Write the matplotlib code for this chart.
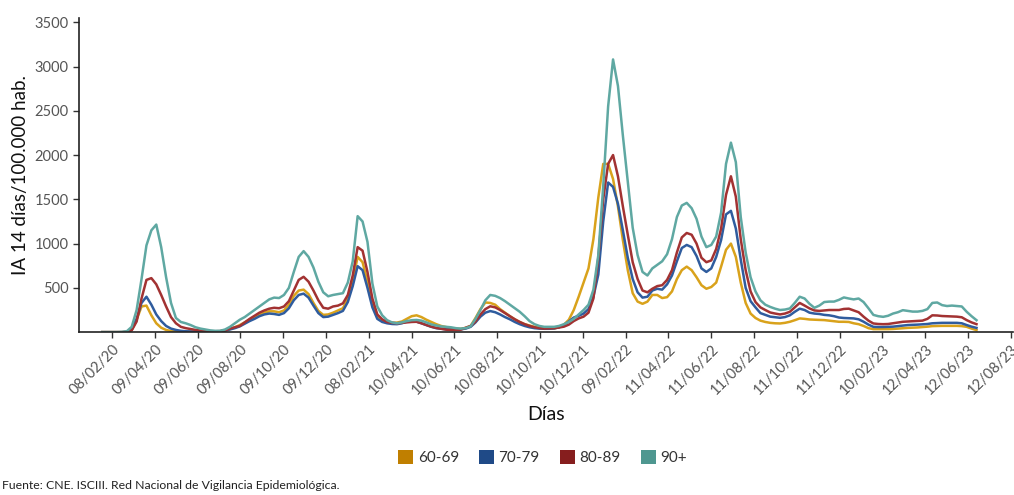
import numpy as np
import pandas as pd
import matplotlib
matplotlib.use('Agg')
import matplotlib.pyplot as plt
import matplotlib.dates as mdates
from matplotlib.patches import Patch

# weekly dates (IA 14 days per 100.000 inhabitants)
dates = pd.date_range('2020-01-25', periods=179, freq='7D')

ia_60_69 = [
    0, 0, 0, 0, 0, 2, 25, 140, 290, 300, 190, 100, 50, 25, 12, 8, 5, 4, 3, 3,
    3, 3, 3, 5, 10, 20, 35, 55, 80, 110, 140, 170, 200, 220, 235, 235, 225, 245, 310, 410,
    470, 480, 430, 330, 240, 195, 200, 220, 245, 270, 380, 580, 850, 790, 570, 320, 180, 130, 110, 105,
    108, 120, 150, 180, 190, 170, 140, 115, 90, 70, 58, 45, 38, 38, 48, 70, 160, 260, 335, 330,
    310, 260, 220, 180, 145, 115, 90, 75, 60, 50, 42, 40, 42, 55, 85, 140, 250, 400, 560, 720,
    1050, 1520, 1900, 1900, 1730, 1420, 1040, 700, 440, 345, 320, 345, 420, 420, 385, 395, 460, 600, 700, 740,
    700, 620, 530, 490, 510, 560, 740, 930, 1000, 850, 560, 330, 210, 160, 130, 115, 105, 100, 98, 105,
    117, 135, 155, 150, 143, 140, 138, 136, 130, 125, 117, 117, 115, 100, 90, 70, 45, 34, 34, 34,
    34, 36, 40, 45, 48, 50, 53, 57, 62, 68, 70, 71, 71, 71, 71, 68, 60, 40, 23,
]

ia_70_79 = [
    0, 0, 0, 0, 0, 3, 30, 150, 330, 400, 310, 200, 125, 70, 40, 25, 15, 10, 8, 6,
    5, 5, 5, 6, 10, 18, 30, 45, 65, 95, 125, 150, 180, 200, 210, 205, 195, 215, 270, 360,
    420, 435, 390, 300, 215, 170, 175, 195, 215, 240, 340, 520, 745, 700, 500, 280, 150, 115, 100, 92,
    90, 100, 118, 125, 118, 100, 80, 60, 45, 38, 32, 30, 30, 32, 40, 60, 110, 175, 220, 238,
    225, 200, 170, 145, 115, 90, 70, 55, 45, 40, 38, 38, 42, 55, 80, 120, 165, 185, 210, 260,
    400, 650, 1250, 1690, 1640, 1450, 1150, 840, 600, 450, 390, 400, 470, 490, 480, 540, 640, 800, 950, 985,
    960, 860, 720, 680, 720, 850, 1040, 1330, 1370, 1170, 820, 500, 350, 280, 215, 195, 175, 168, 162, 170,
    190, 230, 265, 250, 220, 210, 205, 195, 190, 180, 165, 160, 158, 155, 145, 118, 85, 60, 58, 58,
    60, 62, 68, 75, 80, 82, 85, 88, 92, 100, 103, 105, 105, 105, 105, 100, 80, 62, 48,
]

ia_80_89 = [
    0, 0, 0, 0, 0, 3, 20, 120, 380, 590, 610, 540, 420, 290, 170, 100, 60, 45, 35, 25,
    18, 12, 10, 10, 12, 20, 40, 55, 70, 110, 150, 185, 220, 245, 265, 275, 270, 290, 350, 470,
    590, 625, 570, 470, 360, 275, 265, 290, 300, 325, 420, 640, 960, 920, 680, 380, 200, 145, 115, 105,
    100, 105, 110, 115, 117, 100, 80, 62, 48, 38, 28, 25, 25, 28, 50, 70, 120, 200, 260, 292,
    280, 250, 215, 180, 145, 115, 90, 70, 55, 45, 40, 42, 45, 52, 62, 85, 125, 155, 175, 220,
    380, 840, 1500, 1900, 2000, 1760, 1420, 1100, 790, 600, 470, 450, 490, 520, 530, 590, 700, 900, 1070, 1120,
    1100, 1000, 840, 790, 810, 940, 1170, 1550, 1760, 1530, 1050, 700, 460, 340, 280, 250, 222, 210, 200, 210,
    230, 280, 330, 300, 268, 245, 240, 245, 250, 250, 250, 262, 265, 245, 225, 175, 130, 98, 92, 90,
    92, 100, 108, 117, 120, 122, 126, 130, 150, 190, 188, 182, 180, 178, 175, 168, 136, 110, 90,
]

ia_90 = [
    0, 0, 0, 0, 2, 10, 60, 250, 600, 980, 1150, 1215, 960, 620, 330, 160, 115, 100, 80, 55,
    40, 30, 20, 15, 15, 30, 60, 100, 140, 170, 210, 250, 290, 330, 370, 390, 385, 420, 500, 680,
    850, 915, 850, 730, 570, 450, 405, 420, 430, 440, 560, 800, 1310, 1250, 1020, 550, 290, 190, 135, 110,
    100, 110, 125, 135, 138, 130, 110, 88, 75, 65, 60, 55, 45, 40, 45, 65, 150, 250, 360, 420,
    410, 385, 350, 310, 270, 230, 180, 125, 90, 70, 60, 60, 60, 70, 90, 115, 150, 200, 250, 310,
    480, 870, 1650, 2550, 3080, 2780, 2220, 1700, 1180, 870, 680, 640, 720, 760, 800, 880, 1050, 1300, 1430, 1460,
    1400, 1280, 1080, 960, 985, 1080, 1350, 1900, 2140, 1920, 1300, 900, 620, 460, 360, 310, 285, 265, 250, 255,
    268, 330, 400, 380, 320, 275, 300, 340, 345, 345, 365, 392, 380, 370, 380, 340, 270, 195, 180, 173,
    185, 210, 225, 248, 240, 232, 232, 240, 260, 330, 335, 305, 295, 300, 295, 290, 230, 180, 135,
]

groups = ['60-69', '70-79', '80-89', '90+']
series = [ia_60_69, ia_70_79, ia_80_89, ia_90]
line_colors = ['#D9A21B', '#2F5C9E', '#A23232', '#5FA8A2']
legend_colors = ['#C07F00', '#1F4A87', '#861E1E', '#4E9790']

tick_dates = pd.date_range('2020-02-08', periods=22, freq='61D')

plt.rcParams['font.family'] = ['Lato', 'DejaVu Sans']

fig = plt.figure(figsize=(10.14, 4.95), dpi=100)
ax = fig.add_axes([0.078, 0.329, 0.921, 0.635])

# draw from youngest to oldest so 90+ ends on top
for vals, col in zip(series, line_colors):
    ax.plot(dates, vals, color=col, linewidth=1.8, solid_joinstyle='round')

ax.set_xlim(pd.Timestamp('2019-12-23'), pd.Timestamp('2023-08-15'))
ax.set_ylim(0, 3550)
ax.set_yticks([500, 1000, 1500, 2000, 2500, 3000, 3500])
ax.set_xticks(tick_dates)
ax.xaxis.set_major_formatter(mdates.DateFormatter('%d/%m/%y'))
plt.setp(ax.get_xticklabels(), rotation=45, ha='right', rotation_mode='anchor')

ax.tick_params(axis='both', colors='#333333', labelcolor='#555555', labelsize=10.5,
               length=4, width=1)
for side in ['top', 'right']:
    ax.spines[side].set_visible(False)
for side in ['left', 'bottom']:
    ax.spines[side].set_linewidth(1.2)
    ax.spines[side].set_color('#222222')

ax.set_ylabel('IA 14 días/100.000 hab.', fontsize=13.5, color='#111111')
ax.set_xlabel('Días', fontsize=14, color='#111111', labelpad=6)

handles = [Patch(facecolor=c, edgecolor='none') for c in legend_colors]
fig.legend(handles, groups, loc='center', bbox_to_anchor=(0.535, 0.075), ncol=4,
           frameon=False, fontsize=11, handlelength=1.0, handleheight=1.0,
           handletextpad=0.3, columnspacing=1.3, labelcolor='#333333')

fig.text(0.002, 0.012, 'Fuente: CNE. ISCIII. Red Nacional de Vigilancia Epidemiológica.',
         fontsize=8.8, color='#222222')

fig.savefig('out.png', dpi=100)
